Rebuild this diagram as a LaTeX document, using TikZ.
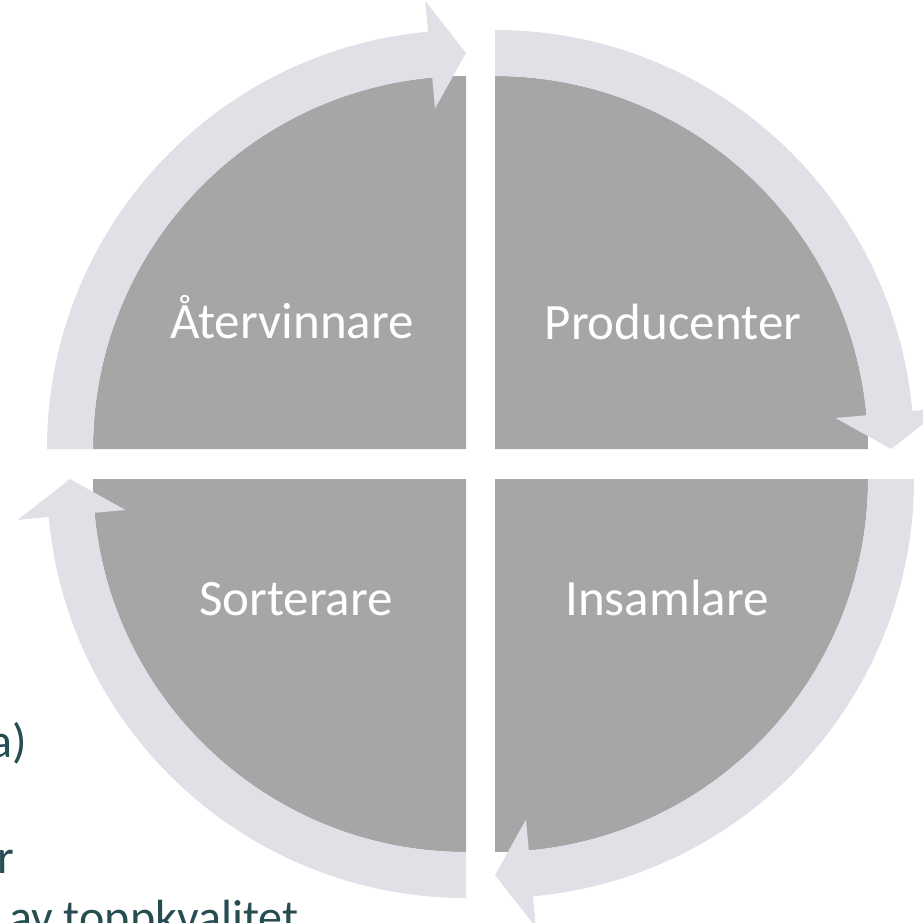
\documentclass[tikz,border=0pt]{standalone}
\usepackage{fontspec}
\setmainfont{Carlito}
\usetikzlibrary{positioning}
\definecolor{quartergray}{RGB}{166,166,166}
\definecolor{ringgray}{RGB}{224,224,230}
\definecolor{slideteal}{RGB}{38,78,82}
\tikzset{
  quarter/.style={fill=quartergray},
  ringarrow/.style={fill=ringgray},
  quarternode/.style={
    text=white,
    inner sep=0pt,
    anchor=base,
    font=\fontsize{51}{61}\selectfont},
  slidetext/.style={
    text=slideteal,
    inner sep=0pt,
    font=\fontsize{48}{58}\selectfont},
}
\begin{document}
\begin{tikzpicture}[x=1pt,y=1pt]
\useasboundingbox (0,0) rectangle (923,-922);
\clip (0,0) rectangle (923,-922);

%Centres
\coordinate (tl) at (466,-449);
\coordinate (tr) at (495,-449);
\coordinate (br) at (495,-479);
\coordinate (bl) at (466,-479);

%Quarters
\fill[quarter] (tl) -- ++(-373,0) arc[start angle=180,end angle=90,radius=373] -- cycle;
\fill[quarter] (tr) -- ++(0,373) arc[start angle=90,end angle=0,radius=373] -- cycle;
\fill[quarter] (br) -- ++(373,0) arc[start angle=0,end angle=-90,radius=373] -- cycle;
\fill[quarter] (bl) -- ++(0,-373) arc[start angle=270,end angle=180,radius=373] -- cycle;

%Ring arrows
\fill[ringarrow, shift={(tl)}] (180:419) arc[start angle=180,end angle=95.2,radius=419] -- (95.2:450) -- (90:396) -- (95.2:342) -- (95.2:373) arc[start angle=95.2,end angle=180,radius=373] -- cycle;
\fill[ringarrow, shift={(tr)}] (90:419) arc[start angle=90,end angle=5.2,radius=419] -- (5.2:450) -- (0:396) -- (5.2:342) -- (5.2:373) arc[start angle=5.2,end angle=90,radius=373] -- cycle;
\fill[ringarrow, shift={(br)}] (0:419) arc[start angle=0,end angle=-84.8,radius=419] -- (-84.8:450) -- (-90:396) -- (-84.8:342) -- (-84.8:373) arc[start angle=-84.8,end angle=0,radius=373] -- cycle;
\fill[ringarrow, shift={(bl)}] (270:419) arc[start angle=270,end angle=185.2,radius=419] -- (185.2:450) -- (180:396) -- (185.2:342) -- (185.2:373) arc[start angle=185.2,end angle=270,radius=373] -- cycle;

%Nodes
\node[quarternode] (atervinnare) at (292,-338) {Återvinnare};
\node[quarternode] (producenter) at (673,-339) {Producenter};
\node[quarternode] (sorterare)   at (296,-615) {Sorterare};
\node[quarternode] (insamlare)   at (667,-615) {Insamlare};

%Slide text behind
\node[slidetext, anchor=base east] (frag-a)    at (27,-757) {a)};
\node[slidetext, anchor=base east] (frag-r)    at (14,-873) {r};
\node[slidetext, anchor=base west] (frag-kval) at (9,-933)  {av toppkvalitet};

\end{tikzpicture}
\end{document}
